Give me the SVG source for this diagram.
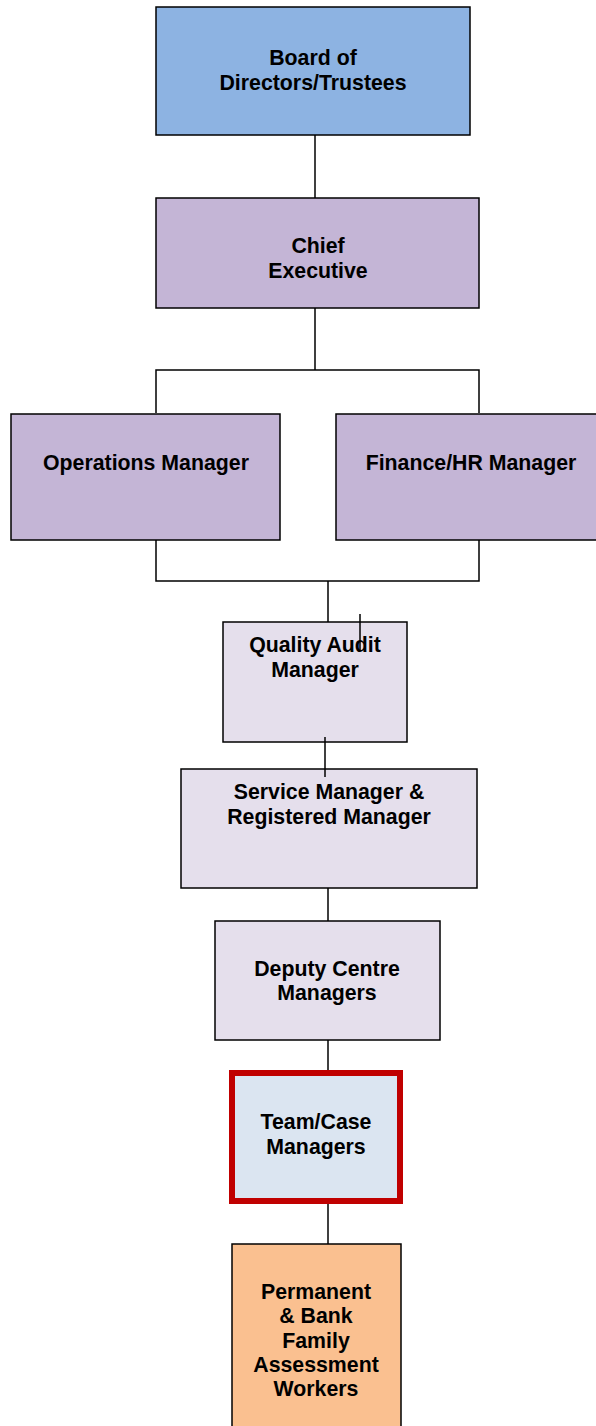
<svg xmlns="http://www.w3.org/2000/svg" width="596" height="1426" viewBox="0 0 596 1426">
<style>
.box{stroke:#000;stroke-width:1.5}
.t{font-family:"Liberation Sans",Arial,sans-serif;font-weight:bold;font-size:21.3px;fill:#000;text-anchor:middle}
.c{stroke:#000;stroke-width:1.5;fill:none}
</style>
<rect width="596" height="1426" fill="#fff"/>
<g id="connectors">
<path class="c" d="M315 135V198"/>
<path class="c" d="M315 308V370M156 413V370H479V413"/>
<path class="c" d="M156 540V581H479V540M328 581V622"/>
<path class="c" d="M328 888V921"/>
<path class="c" d="M328 1040V1072"/>
<path class="c" d="M328 1204V1244"/>
</g>
<g id="board">
<rect class="box" x="156" y="7" width="314" height="128" fill="#8DB3E2"/>
<text class="t" x="313" y="65">Board of</text>
<text class="t" x="313" y="90">Directors/Trustees</text>
</g>
<g id="chief">
<rect class="box" x="156" y="198" width="323" height="110" fill="#C4B5D6"/>
<text class="t" x="318" y="253">Chief</text>
<text class="t" x="318" y="278">Executive</text>
</g>
<g id="ops">
<rect class="box" x="11" y="414" width="269" height="126" fill="#C4B5D6"/>
<text class="t" x="146" y="470">Operations Manager</text>
</g>
<g id="finance">
<rect class="box" x="336" y="414" width="270" height="126" fill="#C4B5D6"/>
<text class="t" x="471" y="470">Finance/HR Manager</text>
</g>
<g id="quality">
<rect class="box" x="223" y="622" width="184" height="120" fill="#E5DFEC"/>
<text class="t" x="315" y="652">Quality Audit</text>
<text class="t" x="315" y="677">Manager</text>
</g>
<g id="service">
<rect class="box" x="181" y="769" width="296" height="119" fill="#E5DFEC"/>
<text class="t" x="329" y="799">Service Manager &amp;</text>
<text class="t" x="329" y="824">Registered Manager</text>
</g>
<g id="deputy">
<rect class="box" x="215" y="921" width="225" height="119" fill="#E5DFEC"/>
<text class="t" x="327" y="976">Deputy Centre</text>
<text class="t" x="327" y="1000">Managers</text>
</g>
<g id="team">
<rect x="232" y="1073" width="168" height="128" fill="#DBE5F1" stroke="#C00000" stroke-width="6"/>
<text class="t" x="316" y="1129">Team/Case</text>
<text class="t" x="316" y="1154">Managers</text>
</g>
<g id="workers">
<rect class="box" x="232" y="1244" width="169" height="200" fill="#FAC090"/>
<text class="t" x="316" y="1299">Permanent</text>
<text class="t" x="316" y="1323">&amp; Bank</text>
<text class="t" x="316" y="1348">Family</text>
<text class="t" x="316" y="1372">Assessment</text>
<text class="t" x="316" y="1396">Workers</text>
</g>
<g id="connectors-over">
<path class="c" d="M360 614V651"/>
<path class="c" d="M325 737V777"/>
</g>
</svg>
